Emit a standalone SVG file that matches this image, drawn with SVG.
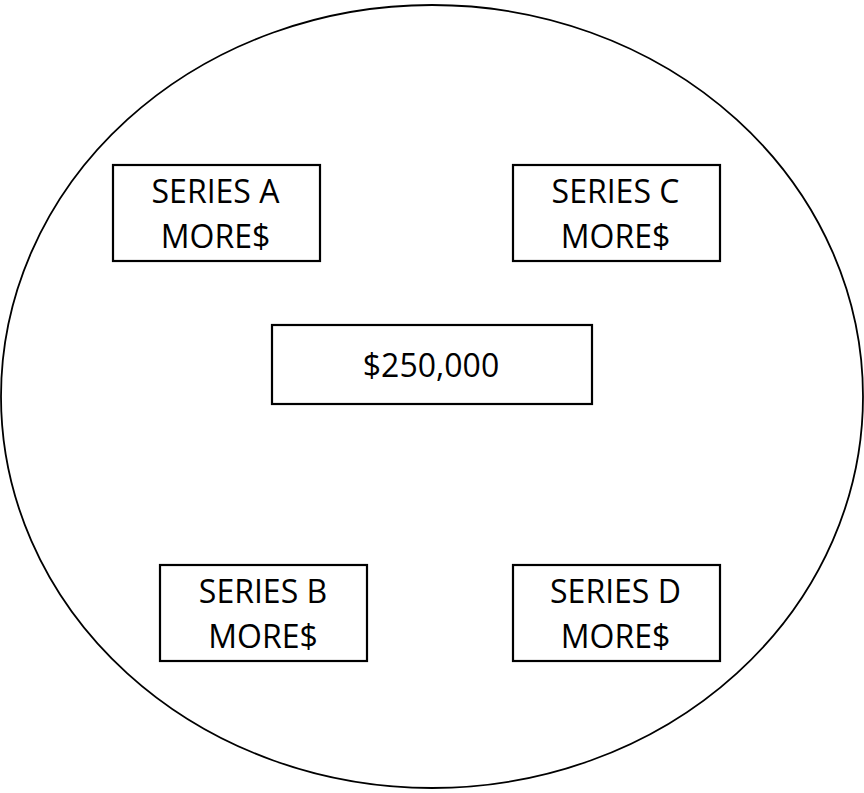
<svg xmlns="http://www.w3.org/2000/svg" width="864" height="793" viewBox="0 0 864 793">
<style>
.b{fill:#fff;stroke:#000;stroke-width:2.2}
.t{font-family:"Open Sans","Liberation Sans",sans-serif;font-size:32px;fill:#000;text-anchor:middle}
</style>
<rect width="864" height="793" fill="#fff"/>
<ellipse id="circle" cx="432" cy="396.5" rx="431" ry="391.5" fill="#fff" stroke="#000" stroke-width="1.8"/>
<g id="connectors"/>
<g id="seriesA"><rect class="b" x="113" y="165" width="207" height="96"/><text class="t" x="215.5" y="203">SERIES A</text><text class="t" x="215.5" y="248">MORE$</text></g>
<g id="seriesC"><rect class="b" x="513" y="165" width="207" height="96"/><text class="t" x="615.5" y="203">SERIES C</text><text class="t" x="615.5" y="248">MORE$</text></g>
<g id="center"><rect class="b" x="272" y="325" width="320" height="79"/><text class="t" x="431" y="377">$250,000</text></g>
<g id="seriesB"><rect class="b" x="160" y="565" width="207" height="96"/><text class="t" x="263" y="603">SERIES B</text><text class="t" x="263" y="648">MORE$</text></g>
<g id="seriesD"><rect class="b" x="513" y="565" width="207" height="96"/><text class="t" x="615.5" y="603">SERIES D</text><text class="t" x="615.5" y="648">MORE$</text></g>
</svg>
